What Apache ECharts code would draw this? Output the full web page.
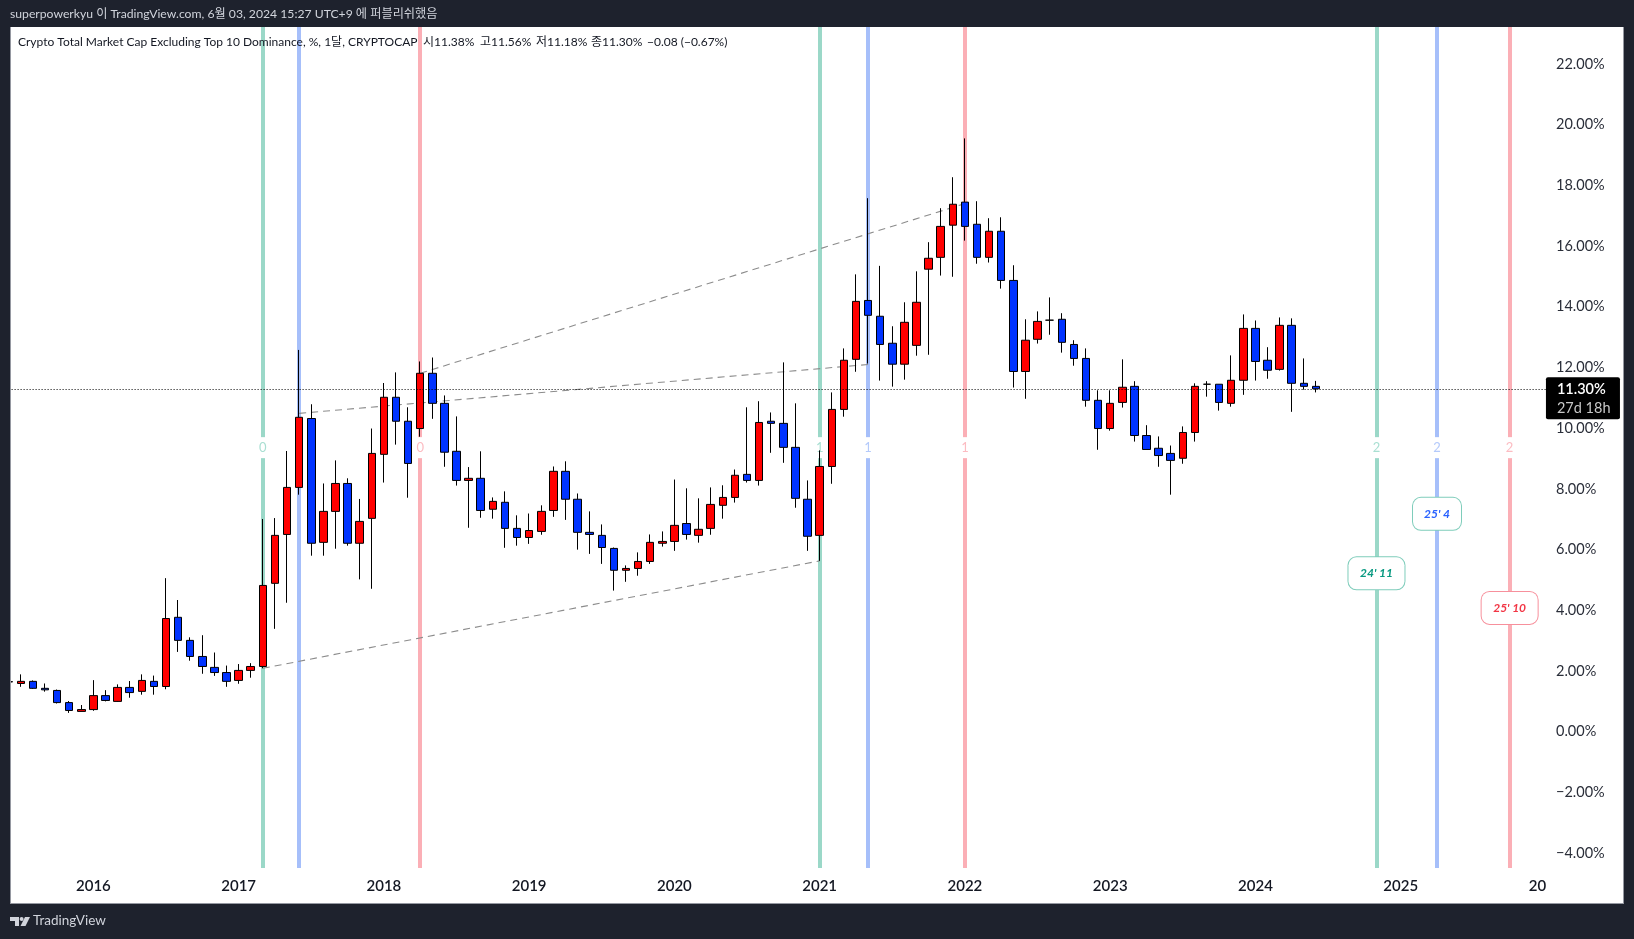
<!DOCTYPE html>
<html>
<head>
<meta charset="utf-8">
<style>
  html, body { margin: 0; padding: 0; background: #1e222d; }
  #chart { width: 1634px; height: 939px; }
</style>
</head>
<body>
<div id="chart"></div>
<script src="https://cdn.jsdelivr.net/npm/echarts@6/dist/echarts.min.js"></script>
<script>
// monthly bars, 2015-06 to 2024-06
const opens = [
  1.65, 1.59, 1.66, 1.43, 1.36, 0.96, 0.67,
  0.73, 1.19, 1.00, 1.46, 1.33, 1.66, 1.49, 3.77, 3.01, 2.48, 2.12, 1.95,
  1.69, 2.02, 2.15, 4.89, 6.50, 8.05, 10.32, 6.24, 7.26, 8.18, 6.21, 7.03,
  9.14, 11.02, 10.23, 9.99, 11.81, 10.82, 9.24, 8.28, 8.35, 7.33, 7.56, 6.70,
  6.40, 6.60, 7.29, 8.58, 7.66, 6.57, 6.47, 6.04, 5.32, 5.38, 5.61, 6.21,
  6.27, 6.86, 6.47, 6.70, 7.46, 7.72, 8.48, 8.28, 10.23, 10.16, 9.37, 7.66,
  6.47, 8.74, 10.62, 12.27, 14.21, 13.69, 12.80, 12.11, 12.73, 15.24, 15.63, 16.69,
  17.45, 16.72, 15.63, 16.49, 14.87, 11.87, 12.93, 13.56, 13.59, 12.76, 12.30, 10.92,
  9.99, 10.85, 11.38, 9.76, 9.34, 9.17, 9.01, 9.86, 11.45, 11.45, 10.82, 11.58,
  13.29, 12.24, 11.94, 13.39, 11.48, 11.38
];
const closes = [
  1.64, 1.66, 1.43, 1.38, 0.96, 0.70, 0.73,
  1.19, 1.03, 1.46, 1.29, 1.69, 1.49, 3.73, 3.01, 2.48, 2.15, 1.95, 1.66,
  2.02, 2.15, 4.82, 6.47, 8.05, 10.36, 6.21, 7.26, 8.18, 6.21, 6.93, 9.17,
  11.02, 10.23, 8.84, 11.81, 10.82, 9.21, 8.28, 8.35, 7.29, 7.59, 6.70, 6.40,
  6.63, 7.26, 8.58, 7.66, 6.57, 6.50, 6.07, 5.32, 5.38, 5.61, 6.24, 6.27,
  6.80, 6.50, 6.67, 7.49, 7.72, 8.45, 8.28, 10.19, 10.16, 9.37, 7.69, 6.44,
  8.74, 10.62, 12.24, 14.18, 13.72, 12.76, 12.11, 13.49, 14.15, 15.60, 16.65, 17.38,
  16.65, 15.63, 16.49, 14.87, 11.87, 12.90, 13.52, 13.56, 12.83, 12.30, 10.92, 9.99,
  10.82, 11.35, 9.76, 9.30, 9.10, 8.94, 9.86, 11.38, 11.45, 10.85, 11.58, 13.29,
  12.20, 11.91, 13.39, 11.48, 11.38, 11.30
];
const lows = [
  1.61, 1.48, 1.41, 1.32, 0.93, 0.62, 0.67,
  0.69, 1.00, 0.99, 1.12, 1.22, 1.22, 1.40, 2.63, 2.34, 1.91, 1.84, 1.48,
  1.58, 1.78, 2.09, 3.39, 4.25, 7.81, 5.80, 5.80, 6.03, 6.13, 5.02, 4.71,
  8.21, 9.46, 7.71, 9.72, 10.31, 8.73, 8.11, 6.72, 7.05, 7.02, 6.06, 6.13,
  6.19, 6.49, 7.08, 6.98, 6.00, 5.86, 5.53, 4.65, 4.94, 5.14, 5.53, 6.10,
  5.96, 6.33, 6.23, 6.49, 7.02, 7.55, 8.21, 8.11, 9.19, 8.86, 7.38, 5.96,
  5.63, 8.17, 10.38, 11.86, 12.13, 11.57, 11.37, 11.60, 12.39, 12.42, 15.03, 14.99,
  16.18, 15.42, 15.46, 14.60, 11.34, 10.97, 12.79, 13.08, 12.49, 12.06, 10.71, 9.29,
  9.92, 10.68, 9.56, 9.30, 8.73, 7.81, 8.83, 9.56, 11.04, 10.58, 10.71, 11.10,
  11.57, 11.63, 11.90, 10.54, 11.27, 11.18
];
const highs = [
  1.68, 1.89, 1.69, 1.59, 1.39, 1.01, 0.88,
  1.70, 1.37, 1.56, 1.67, 1.89, 1.85, 5.06, 4.34, 3.11, 3.18, 2.61, 2.18,
  2.23, 2.26, 7.01, 7.04, 9.25, 12.58, 10.79, 8.18, 8.94, 8.35, 7.67, 9.99,
  11.49, 11.84, 10.69, 12.20, 12.33, 11.08, 10.39, 8.72, 9.24, 7.72, 7.92, 7.13,
  7.19, 7.46, 8.74, 8.91, 7.85, 7.26, 6.83, 6.07, 5.48, 5.91, 6.50, 6.60,
  8.31, 8.02, 7.69, 8.05, 8.12, 8.64, 10.69, 10.89, 10.52, 12.17, 10.82, 8.28,
  9.27, 11.18, 12.63, 15.07, 17.58, 15.35, 13.36, 14.15, 15.17, 16.13, 17.25, 18.27,
  19.55, 17.48, 16.92, 16.95, 15.37, 13.59, 13.85, 14.31, 13.79, 12.90, 12.63, 11.25,
  11.25, 12.27, 11.55, 10.10, 9.73, 9.43, 10.06, 11.48, 11.55, 11.45, 12.40, 13.75,
  13.55, 12.67, 13.65, 13.62, 12.30, 11.56
];

const priceTicks = [-4, -2, 0, 2, 4, 6, 8, 10, 12, 14, 16, 18, 20, 22];
const yearTicks = ['2016-01', '2017-01', '2018-01', '2019-01', '2020-01', '2021-01', '2022-01', '2023-01', '2024-01', '2025-01', '2026-01'];

// vertical cycle lines
const cycleDates = ['2017-03', '2017-06', '2018-04', '2021-01', '2021-05', '2022-01', '2024-11', '2025-04', '2025-10'];
const cycleNumbers = ['0', '0', '0', '1', '1', '1', '2', '2', '2'];
const cycleColors = ['#9bd8c8', '#a6bffa', '#fbafb6'];
const cycleTextColors = ['#a9dfd2', '#b4cafb', '#fcbcc2'];

const trendLines = [
  [['2017-03', 2.09], ['2021-01', 5.63]],
  [['2017-06', 10.49], ['2021-05', 12.10]],
  [['2018-04', 11.81], ['2022-01', 17.40]]
];

const dateTagNames = ["24' 11", "25' 4", "25' 10"];
const dateTagMonths = ['2024-11', '2025-04', '2025-10'];
const dateTagPrices = [5.22, 7.18, 4.08];
const dateTagText = ['#089981', '#2962ff', '#f23645'];
const dateTagBorder = ['#7fcdbb', '#7fcdbb', '#f7909c'];

const legendTexts = ['시11.38%', '고11.56%', '저11.18%', '종11.30%', '−0.08 (−0.67%)'];
const legendLefts = [423, 480, 536, 591, 647];

const categories = [];
for (let y = 2015; y <= 2026; y++) {
  for (let m = 1; m <= 12; m++) {
    if ((y === 2015 && m < 6) || (y === 2026 && m > 1)) continue;
    categories.push(y + '-' + String(m).padStart(2, '0'));
  }
}
const candles = opens.map((o, i) => [o, closes[i], lows[i], highs[i]]);

const FONT = 'Lato, "Noto Sans CJK KR", sans-serif';
const lastClose = closes[closes.length - 1];

function headerText(text, x, y, fill, size) {
  return {
    type: 'text', z: 20, silent: true,
    style: { text: text, x: x, y: y, fill: fill, font: size + 'px ' + FONT, verticalAlign: 'middle' }
  };
}

const myChart = echarts.init(document.getElementById('chart'));
myChart.setOption({
  animation: false,
  backgroundColor: '#1e222d',
  textStyle: { fontFamily: FONT },
  grid: { left: 2.6, top: 27, width: 1549.4, height: 841 },
  xAxis: {
    type: 'category',
    data: categories,
    boundaryGap: true,
    axisLine: { show: false },
    axisTick: { show: false },
    splitLine: { show: false },
    axisLabel: {
      interval: (i, v) => yearTicks.includes(v),
      formatter: v => v === '2026-01' ? '{cut|20}' : v.slice(0, 4),
      color: '#131722',
      fontSize: 15,
      fontWeight: 600,
      fontFamily: FONT,
      margin: 11,
      rich: { cut: { color: '#131722', fontSize: 15, fontWeight: 600, fontFamily: FONT, padding: [0, 17, 0, 0] } }
    }
  },
  yAxis: {
    type: 'value',
    position: 'right',
    min: -4.49,
    max: 23.22,
    axisLine: { show: false },
    axisTick: { show: false },
    splitLine: { show: false },
    axisLabel: {
      customValues: priceTicks,
      formatter: v => (v < 0 ? '−' : '') + Math.abs(v).toFixed(2) + '%',
      color: '#2a2e39',
      fontSize: 14.5,
      fontFamily: FONT,
      margin: 4
    }
  },
  series: [
    {
      // cycle lines
      type: 'line',
      z: 1,
      silent: true,
      data: [],
      markLine: {
        z: 1,
        silent: true,
        symbol: 'none',
        animation: false,
        label: { show: false },
        data: cycleDates.map((d, i) => ({
          xAxis: d,
          lineStyle: { color: cycleColors[i % 3], width: 4, type: 'solid', opacity: 1 }
        }))
      }
    },
    {
      type: 'scatter',
      z: 2,
      silent: true,
      symbolSize: 0,
      itemStyle: { opacity: 1 },
      data: cycleDates.map((d, i) => ({
        value: [d, 9.36],
        label: {
          show: true, position: 'inside', formatter: cycleNumbers[i],
          color: cycleTextColors[i % 3], fontSize: 13, fontFamily: FONT,
          backgroundColor: '#ffffff', padding: [4, 2]
        }
      }))
    }
  ].concat(trendLines.map(line => ({
    type: 'line',
    z: 3,
    silent: true,
    symbol: 'none',
    data: line,
    lineStyle: { color: '#8c8c8c', width: 1.1, type: [7, 5] }
  }))).concat([
    {
      type: 'candlestick',
      z: 4,
      silent: true,
      barWidth: 8,
      data: candles,
      itemStyle: {
        color: '#ff0000',
        color0: '#0033ff',
        borderColor: '#000000',
        borderColor0: '#000000',
        borderColorDoji: '#000000',
        borderWidth: 1
      }
    },
    {
      // last price line sits over the candles
      type: 'line',
      z: 5,
      silent: true,
      data: [],
      markLine: {
        z: 5,
        silent: true,
        symbol: 'none',
        animation: false,
        label: { show: false },
        data: [{ yAxis: lastClose, lineStyle: { color: '#000000', width: 1, type: [1, 2], opacity: 1 } }]
      }
    },
    {
      type: 'scatter',
      z: 6,
      silent: true,
      symbolSize: 0,
      itemStyle: { opacity: 1 },
      data: dateTagNames.map((name, i) => ({
        value: [dateTagMonths[i], dateTagPrices[i]],
        label: {
          show: true, position: 'inside', formatter: name,
          color: dateTagText[i], fontSize: 12, fontStyle: 'italic', fontWeight: 700, fontFamily: FONT,
          backgroundColor: '#ffffff', borderColor: dateTagBorder[i], borderWidth: 1, borderRadius: 8,
          width: i === 1 ? 48 : 56, height: 32, lineHeight: 32, align: 'center'
        }
      }))
    },
    {
      // last price tag
      type: 'scatter',
      z: 7,
      silent: true,
      symbolSize: 0,
      itemStyle: { opacity: 1 },
      data: [{
        value: ['2026-01', lastClose],
        label: {
          show: true, position: 'right', distance: 0, offset: [0, 9.5],
          formatter: '{p|' + lastClose.toFixed(2) + '%}\n{t|27d 18h}',
          backgroundColor: '#000000', borderRadius: 2, padding: [3, 0, 2, 11],
          rich: {
            p: { color: '#ffffff', fontSize: 14.5, fontWeight: 600, fontFamily: FONT, width: 63, height: 18.5, lineHeight: 18.5 },
            t: { color: '#c8c8c8', fontSize: 14.5, fontFamily: FONT, width: 63, height: 18.5, lineHeight: 18.5 }
          }
        }
      }]
    }
  ]),
  graphic: [
    { type: 'rect', z: -1, silent: true, shape: { x: 10, y: 27, width: 1613, height: 876 }, style: { fill: '#ffffff' } },
    { type: 'rect', z: 15, silent: true, shape: { x: 0, y: 0, width: 10, height: 939 }, style: { fill: '#1e222d' } },
    { type: 'rect', z: 15, silent: true, shape: { x: 10, y: 27, width: 1, height: 876 }, style: { fill: '#9598a1' } },
    { type: 'rect', z: 15, silent: true, shape: { x: 1623, y: 27, width: 1, height: 877 }, style: { fill: '#9598a1' } },
    { type: 'rect', z: 15, silent: true, shape: { x: 10, y: 903, width: 1613, height: 1 }, style: { fill: '#9598a1' } },
    headerText('superpowerkyu 이 TradingView.com, 6월 03, 2024 15:27 UTC+9 에 퍼블리쉬했음', 10, 14, '#d1d4dc', 12.2),
    headerText('Crypto Total Market Cap Excluding Top 10 Dominance, %, 1달, CRYPTOCAP', 18, 42, '#131722', 12)
  ].concat(legendTexts.map((t, i) => headerText(t, legendLefts[i], 42, '#131722', 12))).concat([
    // TradingView mark
    { type: 'polygon', z: 20, silent: true, shape: { points: [[10, 917], [19, 917], [19, 926], [15, 926], [15, 921], [10, 921]] }, style: { fill: '#d1d4dc' } },
    { type: 'circle', z: 20, silent: true, shape: { cx: 21.6, cy: 919, r: 2 }, style: { fill: '#d1d4dc' } },
    { type: 'polygon', z: 20, silent: true, shape: { points: [[25, 917], [30, 917], [25.5, 926], [20.5, 926]] }, style: { fill: '#d1d4dc' } },
    headerText('TradingView', 33, 921, '#d1d4dc', 13.5)
  ])
});
</script>
</body>
</html>
